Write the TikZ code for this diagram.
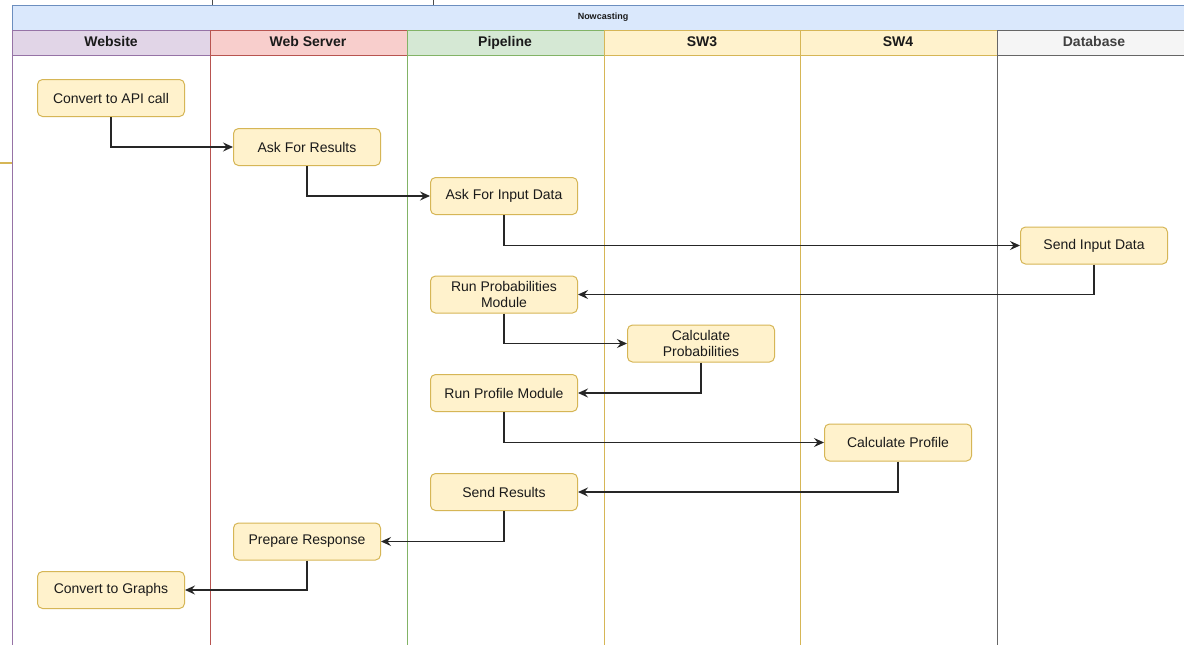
\documentclass[tikz,border=0pt]{standalone}
\usepackage{fontspec}
\setmainfont{Liberation Sans}
\usetikzlibrary{arrows.meta}
\definecolor{boxfill}{HTML}{FFF2CC}
\definecolor{boxdraw}{HTML}{D6B656}
\definecolor{purfill}{HTML}{E1D5E7}
\definecolor{purdraw}{HTML}{9673A6}
\definecolor{redfill}{HTML}{F8CECC}
\definecolor{reddraw}{HTML}{B85450}
\definecolor{grnfill}{HTML}{D5E8D4}
\definecolor{grndraw}{HTML}{82B366}
\definecolor{grayfill}{HTML}{F5F5F5}
\definecolor{graydraw}{HTML}{666666}
\definecolor{bluefill}{HTML}{DAE8FC}
\definecolor{bluedraw}{HTML}{6C8EBF}
\definecolor{txt}{HTML}{1A1A1A}
\tikzset{
  task/.style={draw=boxdraw, fill=boxfill, rounded corners=5pt, line width=1pt,
    minimum width=147pt, minimum height=37pt, align=center, inner sep=1pt,
    font=\fontsize{14}{16.5}\selectfont, text=txt},
  lanehead/.style={font=\bfseries\fontsize{14}{16}\selectfont, text=txt,
    text height=10pt, text depth=3pt, inner sep=0pt},
  flow/.style={draw=black!85, line width=1.1pt, -{Stealth[length=10pt,width=9pt,inset=3.5pt]}},
  artifact/.style={draw=black!70, line width=0.8pt}
}
\begin{document}
\begin{tikzpicture}[x=1pt,y=-1pt]
\useasboundingbox (0,0) rectangle (1184,645);
\fill[white] (0,0) rectangle (1184,645);
\begin{scope}
\clip (0,0) rectangle (1184,645);
% artifacts at top and left
\draw[artifact] (212,0) -- (212,5);
\draw[artifact] (433,0) -- (433,5);
\draw[draw=boxdraw, line width=1.2pt] (0,163) -- (12,163);
% title band
\draw[draw=bluedraw, fill=bluefill, line width=1pt] (12,5) rectangle (1200,30);
\node[font=\bfseries\fontsize{9}{10}\selectfont, text=txt] (title) at (603,17.5) {Nowcasting};
% lanes
\draw[draw=purdraw, line width=1pt] (12,30) rectangle (210,700);
\draw[draw=purdraw, fill=purfill, line width=1pt] (12,30) rectangle (210,55);
\draw[draw=reddraw, line width=1pt] (210,30) rectangle (407,700);
\draw[draw=reddraw, fill=redfill, line width=1pt] (210,30) rectangle (407,55);
\draw[draw=grndraw, line width=1pt] (407,30) rectangle (604,700);
\draw[draw=grndraw, fill=grnfill, line width=1pt] (407,30) rectangle (604,55);
\draw[draw=boxdraw, line width=1pt] (604,30) rectangle (800,700);
\draw[draw=boxdraw, fill=boxfill, line width=1pt] (604,30) rectangle (800,55);
\draw[draw=boxdraw, line width=1pt] (800,30) rectangle (997,700);
\draw[draw=boxdraw, fill=boxfill, line width=1pt] (800,30) rectangle (997,55);
\draw[draw=graydraw, line width=1pt] (997,30) rectangle (1200,700);
\draw[draw=graydraw, fill=grayfill, line width=1pt] (997,30) rectangle (1200,55);
\node[lanehead] (h1) at (111,43) {Website};
\node[lanehead] (h2) at (308,43) {Web Server};
\node[lanehead] (h3) at (505,43) {Pipeline};
\node[lanehead] (h4) at (702,43) {SW3};
\node[lanehead] (h5) at (898,43) {SW4};
\node[lanehead, text=black!75] (h6) at (1094,43) {Database};
% tasks
\node[task] (api) at (111,98) {Convert to API call};
\node[task] (ask) at (307,147) {Ask For Results};
\node[task] (input) at (504,196) {Ask For Input Data};
\node[task] (send) at (1094,245.5) {Send Input Data};
\node[task] (runprob) at (504,294.5) {Run Probabilities\\Module};
\node[task] (calcprob) at (701,343.5) {Calculate\\Probabilities};
\node[task] (runprof) at (504,393) {Run Profile Module};
\node[task] (calcprof) at (898,442.5) {Calculate Profile};
\node[task] (results) at (504,492) {Send Results};
\node[task] (prep) at (307,541.5) {Prepare Response};
\node[task] (graphs) at (111,590) {Convert to Graphs};
% connectors
\draw[flow] (api.south) |- (ask.west);
\draw[flow] (ask.south) |- (input.west);
\draw[flow] (input.south) |- (send.west);
\draw[flow] (send.south) |- (runprob.east);
\draw[flow] (runprob.south) |- (calcprob.west);
\draw[flow] (calcprob.south) |- (runprof.east);
\draw[flow] (runprof.south) |- (calcprof.west);
\draw[flow] (calcprof.south) |- (results.east);
\draw[flow] (results.south) |- (prep.east);
\draw[flow] (prep.south) |- (graphs.east);
\end{scope}
\end{tikzpicture}
\end{document}
